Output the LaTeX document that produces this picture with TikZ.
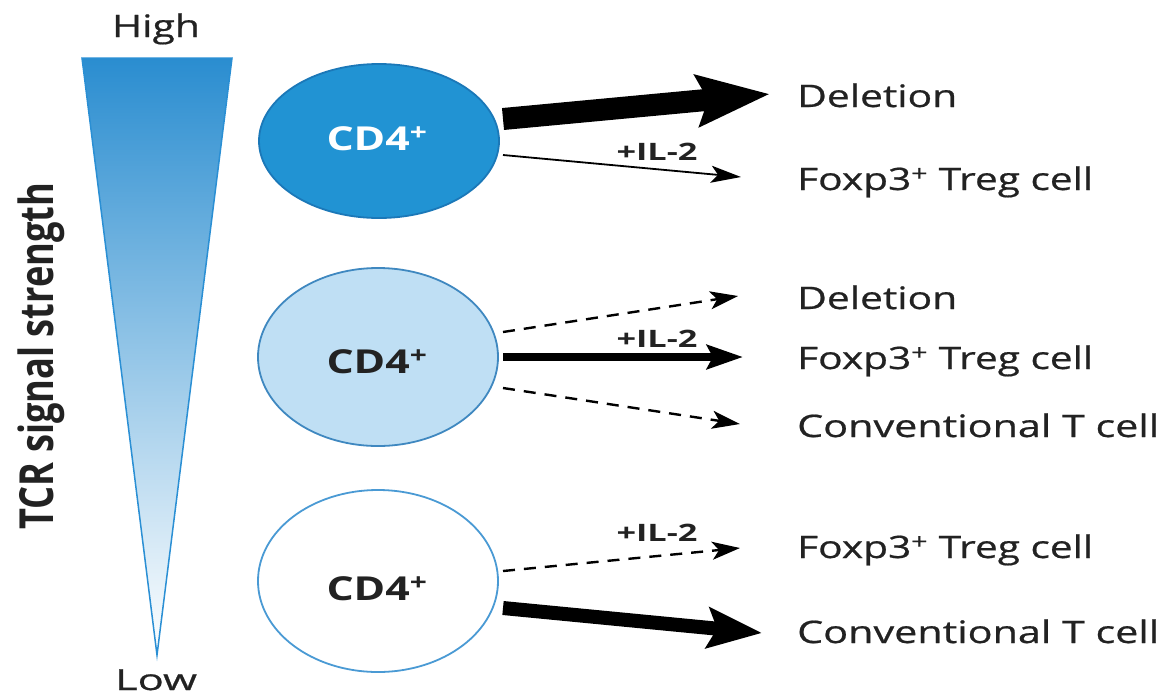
\documentclass[tikz,border=0pt]{standalone}
\usepackage{fontspec}
\setmainfont{Open Sans}
\newfontfamily\labfont[FakeBold=0.6]{Open Sans}
\usetikzlibrary{shapes.geometric,arrows.meta}
\definecolor{txt}{HTML}{222222}
\definecolor{blueA}{HTML}{2193D3}
\definecolor{blueAline}{HTML}{1B78B8}
\definecolor{blueB}{HTML}{BFDFF4}
\definecolor{blueBline}{HTML}{3F88C0}
\definecolor{blueCline}{HTML}{4A9AD4}
\definecolor{triTop}{HTML}{2A8DD0}
\definecolor{triLine}{HTML}{2A8FD4}
\newcommand{\fitw}[2]{\resizebox{#1}{\height}{#2}}
\begin{document}
\begin{tikzpicture}[x=1pt,y=-1pt,
  lab/.style={anchor=base west, inner sep=0pt, text=txt, font=\fontsize{31}{36}\labfont},
  cdlab/.style={anchor=base, inner sep=0pt, font=\fontsize{33}{38}\selectfont\bfseries},
  il/.style={anchor=base, inner sep=0pt, text=txt, font=\fontsize{24}{28}\selectfont\bfseries},
  cell/.style={ellipse, draw, line width=1.8pt, minimum width=240pt, inner sep=0pt},
  dsh/.style={line width=2.4pt, dash pattern=on 12pt off 9pt, -{Stealth[length=28pt,width=18pt,inset=7pt]}},
]
\useasboundingbox (0,0) rectangle (1158,697);

% gradient triangle
\shade[top color=triTop, bottom color=white, draw=triLine, line width=1.5pt]
  (82,58) -- (232,58) -- (157,655) -- cycle;
\node[anchor=base, inner sep=0pt, text=txt, font=\fontsize{31}{36}\labfont] (high) at (156,37) {\fitw{88pt}{High}};
\node[anchor=base, inner sep=0pt, text=txt, font=\fontsize{29}{34}\labfont] (low) at (156,690) {\fitw{82pt}{Low}};
\node[anchor=base, rotate=90, inner sep=0pt, text=txt, font=\fontsize{47}{52}\selectfont\bfseries] (tcr) at (53,356) {\fitw{347pt}{TCR signal strength}};

% cells
\node[cell, fill=blueA, draw=blueAline, minimum height=154pt] (c1) at (379,141) {};
\node[cell, fill=blueB, draw=blueBline, minimum height=178pt] (c2) at (378,357) {};
\node[cell, fill=white, draw=blueCline, minimum height=182pt] (c3) at (378,581) {};
\node[cdlab, text=white] (t1) at (377,150) {\fitw{101pt}{CD4\textsuperscript{+}}};
\node[cdlab, text=txt] (t2) at (377,373) {\fitw{101pt}{CD4\textsuperscript{+}}};
\node[cdlab, text=txt] (t3) at (377,600) {\fitw{101pt}{CD4\textsuperscript{+}}};

% outcome labels
\node[lab] (d1) at (797,107) {\fitw{160pt}{Deletion}};
\node[lab] (f1) at (797,190) {\fitw{296pt}{Foxp3\textsuperscript{+} Treg cell}};
\node[lab] (d2) at (797,309) {\fitw{160pt}{Deletion}};
\node[lab] (f2) at (797,369) {\fitw{296pt}{Foxp3\textsuperscript{+} Treg cell}};
\node[lab] (k2) at (797,437) {\fitw{362pt}{Conventional T cell}};
\node[lab] (f3) at (797,558) {\fitw{296pt}{Foxp3\textsuperscript{+} Treg cell}};
\node[lab] (k3) at (797,643) {\fitw{362pt}{Conventional T cell}};

% IL-2 labels
\node[il] (i1) at (657,160) {\fitw{81pt}{+IL-2}};
\node[il] (i2) at (657,347) {\fitw{81pt}{+IL-2}};
\node[il] (i3) at (657,541) {\fitw{81pt}{+IL-2}};

% arrow end points
\coordinate (a1s) at (503,119); \coordinate (a1e) at (770,94);
\coordinate (b1s) at (503,155); \coordinate (b1e) at (741,177);
\coordinate (a2s) at (503,332); \coordinate (a2e) at (738,296);
\coordinate (b2s) at (503,357); \coordinate (b2e) at (743,357);
\coordinate (c2s) at (503,388); \coordinate (c2e) at (740,424);
\coordinate (a3s) at (503,571); \coordinate (a3e) at (740,548);
\coordinate (b3s) at (503,608); \coordinate (b3e) at (762,633);

% arrows
\draw[line width=22pt, -{Stealth[length=72pt,width=50pt,inset=10pt]}] (a1s) -- (a1e);
\draw[line width=1.8pt, -{Stealth[length=30pt,width=17pt,inset=7pt]}] (b1s) -- (b1e);
\draw[dsh] (a2s) -- (a2e);
\draw[line width=8pt, -{Stealth[length=36pt,width=24pt,inset=6pt]}] (b2s) -- (b2e);
\draw[dsh] (c2s) -- (c2e);
\draw[dsh] (a3s) -- (a3e);
\draw[line width=14pt, -{Stealth[length=54pt,width=40pt,inset=9pt]}] (b3s) -- (b3e);
\end{tikzpicture}
\end{document}
